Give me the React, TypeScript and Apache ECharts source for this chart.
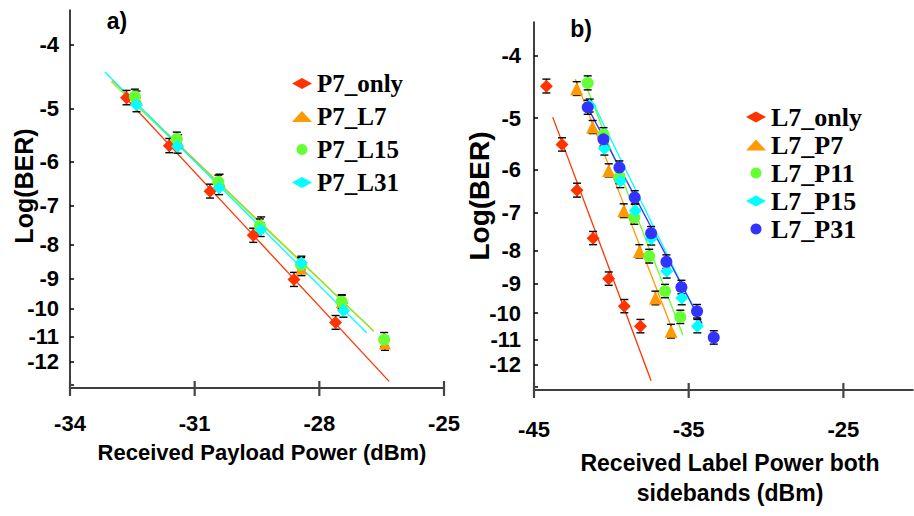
import React, { useEffect, useRef } from 'react';
import * as echarts from 'echarts';

// ---------- Panel a) : Received Payload Power (dBm) vs Log(BER) ----------
const A_X_TICKS = [-34, -31, -28, -25];
const A_Y_LABELS = [-4, -5, -6, -7, -8, -9, -10, -11, -12];
const A_Y_TICKS = [-4, -5, -6, -7, -8, -9, -10, -11, -12, -13];

const P7_ONLY_X = [-32.64, -31.61, -30.63, -29.59, -28.61, -27.61];
const P7_ONLY_Y = [-4.81, -5.68, -6.65, -7.75, -9.03, -10.48];
const P7_ONLY_E = [0.12, 0.14, 0.16, 0.19, 0.22, 0.25];
const P7_ONLY_FIT = [[-32.72, -4.77], [-26.32, -12.85]];

const P7_L7_X = [-32.4, -31.4, -30.4, -29.4, -28.43, -27.46, -26.42];
const P7_L7_Y = [-4.82, -5.6, -6.42, -7.45, -8.7, -9.77, -11.27];
const P7_L7_E = [0.12, 0.13, 0.15, 0.18, 0.21, 0.23, 0.27];
const P7_L7_FIT = [[-32.99, -4.53], [-26.69, -10.8]];

const P7_L15_X = [-32.44, -31.43, -30.43, -29.43, -28.44, -27.46, -26.44];
const P7_L15_Y = [-4.79, -5.55, -6.44, -7.5, -8.58, -9.75, -11.12];
const P7_L15_E = [0.12, 0.13, 0.15, 0.18, 0.21, 0.23, 0.27];
const P7_L15_FIT = [[-33.01, -4.55], [-26.7, -10.78]];

const P7_L31_X = [-32.4, -31.41, -30.41, -29.41, -28.43, -27.42];
const P7_L31_Y = [-4.93, -5.69, -6.57, -7.6, -8.53, -10.05];
const P7_L31_E = [0.12, 0.14, 0.16, 0.18, 0.2, 0.24];
const P7_L31_FIT = [[-33.16, -4.4], [-26.86, -10.86]];

// ---------- Panel b) : Received Label Power both sidebands (dBm) ----------
const B_X_TICKS = [-45, -35, -25];
const B_Y_LABELS = [-4, -5, -6, -7, -8, -9, -10, -11, -12];
const B_Y_TICKS = [-4, -5, -6, -7, -8, -9, -10, -11, -12, -13];

const L7_ONLY_X = [-44.2, -43.19, -42.22, -41.18, -40.17, -39.16, -38.12];
const L7_ONLY_Y = [-4.46, -5.49, -6.46, -7.66, -8.85, -9.76, -10.48];
const L7_ONLY_E = [0.11, 0.13, 0.16, 0.18, 0.21, 0.23, 0.25];
const L7_ONLY_FIT = [[-43.79, -4.98], [-37.43, -12.72]];

const L7_P7_X = [-42.24, -41.21, -40.17, -39.2, -38.19, -37.15, -36.14];
const L7_P7_Y = [-4.5, -5.16, -6.02, -6.95, -8.03, -9.48, -10.67];
const L7_P7_E = [0.11, 0.12, 0.14, 0.17, 0.19, 0.23, 0.26];
const L7_P7_FIT = [[-42.33, -4.35], [-35.97, -10.74]];

const L7_P11_X = [-41.53, -40.51, -39.47, -38.52, -37.55, -36.53, -35.54];
const L7_P11_Y = [-4.41, -5.3, -6.16, -7.12, -8.17, -9.25, -10.14];
const L7_P11_E = [0.11, 0.13, 0.15, 0.17, 0.2, 0.22, 0.24];
const L7_P11_FIT = [[-41.58, -4.49], [-35.37, -10.82]];

const L7_P15_X = [-41.4, -40.45, -39.42, -38.45, -37.42, -36.42, -35.45, -34.44];
const L7_P15_Y = [-4.78, -5.57, -6.25, -6.95, -7.67, -8.62, -9.48, -10.48];
const L7_P15_E = [0.11, 0.13, 0.15, 0.17, 0.18, 0.21, 0.23, 0.25];
const L7_P15_FIT = [[-41.15, -4.75], [-34.13, -10.48]];

const L7_P31_X = [-41.53, -40.51, -39.48, -38.49, -37.43, -36.44, -35.47, -34.46, -33.38];
const L7_P31_Y = [-4.81, -5.39, -5.96, -6.63, -7.53, -8.33, -9.12, -9.94, -10.91];
const L7_P31_E = [0.12, 0.13, 0.14, 0.16, 0.18, 0.2, 0.22, 0.24, 0.26];
const L7_P31_FIT = [[-41.53, -4.81], [-34.13, -10.38]];

const RED = '#FF3300';
const ORANGE = '#FF9900';
const GREEN = '#66FF33';
const CYAN = '#00FFFF';
const BLUE = '#3333FF';

const SANS = '"Liberation Sans", Arial, Helvetica, sans-serif';
const SERIF = '"Liberation Serif", "Times New Roman", serif';

type Def = {
  name: string;
  color: string;
  symbol: string;
  size: number;
  xs: number[];
  ys: number[];
  es: number[];
  fit: number[][];
};

const PANEL_A: Def[] = [
  { name: 'P7_only', color: RED, symbol: 'diamond', size: 13, xs: P7_ONLY_X, ys: P7_ONLY_Y, es: P7_ONLY_E, fit: P7_ONLY_FIT },
  { name: 'P7_L7', color: ORANGE, symbol: 'triangle', size: 12, xs: P7_L7_X, ys: P7_L7_Y, es: P7_L7_E, fit: P7_L7_FIT },
  { name: 'P7_L15', color: GREEN, symbol: 'circle', size: 12, xs: P7_L15_X, ys: P7_L15_Y, es: P7_L15_E, fit: P7_L15_FIT },
  { name: 'P7_L31', color: CYAN, symbol: 'diamond', size: 13, xs: P7_L31_X, ys: P7_L31_Y, es: P7_L31_E, fit: P7_L31_FIT },
];

const PANEL_B: Def[] = [
  { name: 'L7_only', color: RED, symbol: 'diamond', size: 13, xs: L7_ONLY_X, ys: L7_ONLY_Y, es: L7_ONLY_E, fit: L7_ONLY_FIT },
  { name: 'L7_P7', color: ORANGE, symbol: 'triangle', size: 13, xs: L7_P7_X, ys: L7_P7_Y, es: L7_P7_E, fit: L7_P7_FIT },
  { name: 'L7_P11', color: GREEN, symbol: 'circle', size: 12, xs: L7_P11_X, ys: L7_P11_Y, es: L7_P11_E, fit: L7_P11_FIT },
  { name: 'L7_P15', color: CYAN, symbol: 'diamond', size: 13, xs: L7_P15_X, ys: L7_P15_Y, es: L7_P15_E, fit: L7_P15_FIT },
  { name: 'L7_P31', color: BLUE, symbol: 'circle', size: 12, xs: L7_P31_X, ys: L7_P31_Y, es: L7_P31_E, fit: L7_P31_FIT },
];

const Y_MIN = 3.55;
const Y_MAX = 13.15;

// y axis shows Log(BER) on a log(-log) scale: plot u = -Log(BER) on an inverted log axis
const toU = (v: number) => -v;

function buildSeries(defs: Def[], axisIdx: number): any[] {
  const out: any[] = [];
  defs.forEach((d) => {
    out.push({
      name: d.name + ' fit',
      type: 'line',
      xAxisIndex: axisIdx,
      yAxisIndex: axisIdx,
      data: d.fit.map((p) => [p[0], toU(p[1])]),
      showSymbol: false,
      symbol: 'none',
      lineStyle: { color: d.color, width: 1.3 },
      z: 1,
      silent: true,
    });
  });
  defs.forEach((d) => {
    out.push({
      name: d.name + ' err',
      type: 'custom',
      xAxisIndex: axisIdx,
      yAxisIndex: axisIdx,
      data: d.xs.map((x, i) => [x, toU(d.ys[i]) - d.es[i], toU(d.ys[i]) + d.es[i]]),
      encode: { x: 0, y: [1, 2] },
      z: 2,
      silent: true,
      renderItem: (_params: any, api: any) => {
        const x = api.value(0);
        const p1 = api.coord([x, api.value(1)]);
        const p2 = api.coord([x, api.value(2)]);
        const cw = 4;
        const st = { stroke: '#000', lineWidth: 1.4 };
        return {
          type: 'group',
          children: [
            { type: 'line', shape: { x1: p1[0], y1: p1[1], x2: p2[0], y2: p2[1] }, style: st },
            { type: 'line', shape: { x1: p1[0] - cw, y1: p1[1], x2: p1[0] + cw, y2: p1[1] }, style: st },
            { type: 'line', shape: { x1: p2[0] - cw, y1: p2[1], x2: p2[0] + cw, y2: p2[1] }, style: st },
          ],
        };
      },
    });
  });
  defs.forEach((d) => {
    out.push({
      name: d.name,
      type: 'scatter',
      xAxisIndex: axisIdx,
      yAxisIndex: axisIdx,
      data: d.xs.map((x, i) => [x, toU(d.ys[i])]),
      symbol: d.symbol,
      symbolSize: d.size,
      itemStyle: { color: d.color, opacity: 1 },
      z: 3,
      silent: true,
    });
  });
  return out;
}

const LABEL_STYLE = { fontSize: 22, fontWeight: 'bold', fontFamily: SANS, color: '#000' };

function xAxis(gridIndex: number, min: number, max: number, ticks: number[], margin: number): any {
  return {
    type: 'value',
    gridIndex,
    position: 'bottom',
    min,
    max,
    axisLine: { show: true, onZero: false, lineStyle: { color: '#000', width: 1.5 } },
    axisTick: { show: false },
    axisLabel: {
      show: true,
      customValues: ticks,
      margin,
      ...LABEL_STYLE,
      formatter: (v: number) => String(Math.round(v)),
    },
    splitLine: { show: false },
  };
}

function yAxis(gridIndex: number, labels: number[], ticks: number[], margin: number): any {
  return {
    type: 'log',
    logBase: 10,
    gridIndex,
    position: 'left',
    inverse: true,
    min: Y_MIN,
    max: Y_MAX,
    axisLine: { show: true, onZero: false, lineStyle: { color: '#000', width: 1.5 } },
    axisTick: { show: true, inside: true, length: 4, customValues: ticks.map(toU), lineStyle: { color: '#000', width: 1.5 } },
    axisLabel: {
      show: true,
      customValues: labels.map(toU),
      formatter: (v: number) => String(-Math.round(v)),
      margin,
      ...LABEL_STYLE,
    },
    minorTick: { show: false },
    splitLine: { show: false },
  };
}

function legend(defs: Def[], left: number, top: number, fontSize: number, gap: number): any {
  return {
    orient: 'vertical',
    left,
    top,
    data: defs.map((d) => d.name),
    itemWidth: 20,
    itemHeight: 11,
    itemGap: gap,
    selectedMode: false,
    textStyle: { fontFamily: SERIF, fontWeight: 'bold', fontSize, lineHeight: fontSize, color: '#000' },
  };
}

const TEXTS: any[] = [
  { type: 'text', x: 117, y: 21, z: 50, style: { text: 'a)', font: `bold 23px ${SANS}`, fill: '#000', align: 'center', verticalAlign: 'middle' } },
  { type: 'text', x: 581, y: 29, z: 50, style: { text: 'b)', font: `bold 23px ${SANS}`, fill: '#000', align: 'center', verticalAlign: 'middle' } },
  { type: 'text', x: 23.5, y: 186, z: 50, rotation: Math.PI / 2, style: { text: 'Log(BER)', font: `bold 25px ${SANS}`, fill: '#000', align: 'center', verticalAlign: 'middle' } },
  { type: 'text', x: 479, y: 196, z: 50, rotation: Math.PI / 2, style: { text: 'Log(BER)', font: `bold 28px ${SANS}`, fill: '#000', align: 'center', verticalAlign: 'middle' } },
  { type: 'text', x: 262, y: 452, z: 50, style: { text: 'Received Payload Power (dBm)', font: `bold 22px ${SANS}`, fill: '#000', align: 'center', verticalAlign: 'middle' } },
  { type: 'text', x: 730, y: 463, z: 50, style: { text: 'Received Label Power both', font: `bold 23px ${SANS}`, fill: '#000', align: 'center', verticalAlign: 'middle' } },
  { type: 'text', x: 730, y: 493, z: 50, style: { text: 'sidebands (dBm)', font: `bold 23px ${SANS}`, fill: '#000', align: 'center', verticalAlign: 'middle' } },
];

function makeOption(): any {
  return {
    animation: false,
    backgroundColor: '#fff',
    grid: [
      { left: 70, top: 10, width: 374, height: 378 },
      { left: 534, top: 22, width: 379, height: 368 },
    ],
    xAxis: [xAxis(0, -34, -25, A_X_TICKS, 24), xAxis(1, -45, -20.5, B_X_TICKS, 28)],
    yAxis: [yAxis(0, A_Y_LABELS, A_Y_TICKS, 11), yAxis(1, B_Y_LABELS, B_Y_TICKS, 13)],
    legend: [legend(PANEL_A, 287, 66, 25, 8), legend(PANEL_B, 741, 99, 26, 2)],
    series: [...buildSeries(PANEL_A, 0), ...buildSeries(PANEL_B, 1)],
    graphic: TEXTS,
  };
}

// x-axis tick marks crossing the axis line, positioned through the chart's own axis scales
function tickGraphics(chart: any): any[] {
  const els: any[] = [];
  const panels: [number, number[]][] = [
    [0, A_X_TICKS],
    [1, B_X_TICKS],
  ];
  panels.forEach(([idx, ticks]) => {
    ticks.forEach((t) => {
      const p = chart.convertToPixel({ gridIndex: idx }, [t, Y_MAX]);
      if (!p || !isFinite(p[0]) || !isFinite(p[1])) return;
      els.push({
        type: 'line',
        z: 100,
        shape: { x1: p[0], y1: p[1] - 7, x2: p[0], y2: p[1] + 8 },
        style: { stroke: '#444', lineWidth: 2.2 },
        silent: true,
      });
    });
  });
  return els;
}

export default function App() {
  const ref = useRef<HTMLDivElement>(null);
  useEffect(() => {
    if (!ref.current) return;
    const chart = echarts.init(ref.current, null, { renderer: 'svg' });
    chart.setOption(makeOption());
    chart.setOption({ graphic: [...TEXTS, ...tickGraphics(chart)] });
    return () => chart.dispose();
  }, []);
  return (
    <div
      ref={ref}
      style={{ position: 'fixed', left: 0, top: 0, width: 914, height: 516, background: '#fff' }}
    />
  );
}
